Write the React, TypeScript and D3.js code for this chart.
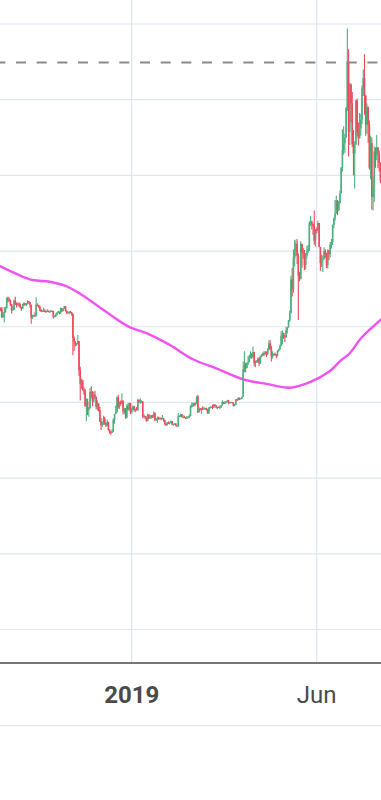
import React from 'react';
import * as d3 from 'd3';

// Daily candles [open, high, low, close], starting 2018-09-14
const startDate = '2018-09-14';

const sep2018 = [
  [6490, 6590, 6420, 6520], [6520, 6580, 6500, 6500], [6500, 6510, 6410, 6480], [6480, 6520, 6230, 6250],
  [6250, 6380, 6240, 6340], [6340, 6520, 6120, 6390], [6390, 6530, 6370, 6490], [6490, 6780, 6480, 6750],
  [6750, 6800, 6640, 6710], [6710, 6770, 6660, 6700], [6700, 6720, 6550, 6590], [6590, 6600, 6350, 6430],
  [6430, 6540, 6420, 6460], [6460, 6720, 6440, 6690], [6690, 6790, 6570, 6620], [6620, 6640, 6510, 6590],
  [6590, 6640, 6560, 6610],
];
const oct2018 = [
  [6610, 6640, 6530, 6580], [6580, 6620, 6490, 6510], [6510, 6520, 6420, 6480], [6480, 6610, 6470, 6570],
  [6570, 6650, 6540, 6620], [6620, 6630, 6560, 6580], [6580, 6620, 6550, 6610], [6610, 6700, 6590, 6680],
  [6680, 6680, 6610, 6650], [6650, 6650, 6510, 6580], [6580, 6590, 6080, 6240], [6240, 6320, 6210, 6290],
  [6290, 6320, 6270, 6300], [6300, 6380, 6260, 6290], [6290, 6780, 6270, 6580], [6580, 6620, 6540, 6570],
  [6570, 6580, 6500, 6530], [6530, 6560, 6410, 6450], [6450, 6470, 6380, 6400], [6400, 6440, 6390, 6420],
  [6420, 6500, 6410, 6420], [6420, 6460, 6390, 6410], [6410, 6430, 6370, 6400], [6400, 6470, 6390, 6420],
  [6420, 6430, 6380, 6390], [6390, 6420, 6370, 6400], [6400, 6440, 6390, 6420], [6420, 6430, 6390, 6410],
  [6410, 6420, 6210, 6270], [6270, 6300, 6250, 6280], [6280, 6350, 6250, 6320],
];
const nov2018 = [
  [6320, 6380, 6300, 6370], [6370, 6420, 6360, 6400], [6400, 6400, 6330, 6380], [6380, 6510, 6340, 6490],
  [6490, 6490, 6380, 6420], [6420, 6480, 6400, 6470], [6470, 6550, 6460, 6540], [6540, 6550, 6400, 6420],
  [6420, 6430, 6330, 6360], [6360, 6400, 6350, 6390], [6390, 6400, 6330, 6400], [6400, 6420, 6360, 6380],
  [6380, 6390, 6300, 6340], [6340, 6350, 5250, 5700], [5700, 5750, 5360, 5600], [5600, 5620, 5480, 5550],
  [5550, 5570, 5500, 5550], [5550, 5780, 5540, 5620], [5620, 5620, 4700, 4850], [4850, 4940, 4050, 4480],
  [4480, 4630, 4360, 4580], [4580, 4600, 4310, 4330], [4330, 4400, 4200, 4300], [4300, 4360, 3880, 3910],
  [3910, 4110, 3500, 4020], [4020, 4100, 3660, 3800], [3800, 3880, 3620, 3850], [3850, 4380, 3840, 4280],
  [4280, 4430, 4110, 4250], [4250, 4300, 3900, 4030],
];
const dec2018 = [
  [4030, 4280, 4000, 4200], [4200, 4310, 4100, 4150], [4150, 4160, 3820, 3880], [3880, 4060, 3790, 3970],
  [3970, 3970, 3760, 3800], [3800, 3880, 3480, 3500], [3500, 3590, 3270, 3400], [3400, 3500, 3350, 3430],
  [3430, 3650, 3410, 3570], [3570, 3620, 3410, 3450], [3450, 3470, 3350, 3390], [3390, 3540, 3380, 3480],
  [3480, 3490, 3260, 3270], [3270, 3300, 3170, 3220], [3220, 3250, 3140, 3200], [3200, 3300, 3190, 3230],
  [3230, 3580, 3220, 3540], [3540, 3700, 3440, 3690], [3690, 3920, 3690, 3750], [3750, 4150, 3730, 4130],
  [4130, 4200, 3830, 3880], [3880, 4020, 3830, 4020], [4020, 4050, 3920, 3960], [3960, 4240, 3960, 4050],
  [4050, 4050, 3680, 3760], [3760, 3860, 3700, 3820], [3820, 3850, 3570, 3600], [3600, 3950, 3580, 3900],
  [3900, 3980, 3780, 3820], [3820, 4000, 3790, 3980], [3980, 3990, 3690, 3740],
];
const jan2019 = [
  [3740, 3850, 3700, 3830], [3830, 3920, 3800, 3900], [3900, 3900, 3760, 3790], [3790, 3840, 3740, 3820],
  [3820, 3880, 3790, 3800], [3800, 4100, 3780, 4060], [4060, 4080, 3990, 4000], [4000, 4110, 3970, 4000],
  [4000, 4060, 3990, 4020], [4020, 4040, 3580, 3640], [3640, 3700, 3580, 3640], [3640, 3650, 3560, 3610],
  [3610, 3630, 3490, 3510], [3510, 3700, 3500, 3670], [3670, 3690, 3560, 3580], [3580, 3680, 3570, 3620],
  [3620, 3670, 3570, 3660], [3660, 3670, 3590, 3610], [3610, 3760, 3610, 3710], [3710, 3740, 3500, 3540],
  [3540, 3580, 3510, 3560], [3560, 3630, 3460, 3590], [3590, 3620, 3540, 3560], [3560, 3610, 3550, 3590],
  [3590, 3600, 3530, 3580], [3580, 3670, 3560, 3580], [3580, 3590, 3490, 3530], [3530, 3540, 3400, 3440],
  [3440, 3450, 3380, 3400], [3400, 3490, 3390, 3470], [3470, 3500, 3430, 3440],
];
const feb2019 = [
  [3440, 3490, 3420, 3470], [3470, 3520, 3460, 3510], [3510, 3510, 3400, 3420], [3420, 3440, 3390, 3420],
  [3420, 3450, 3410, 3440], [3440, 3450, 3370, 3390], [3390, 3400, 3360, 3370], [3370, 3720, 3360, 3640],
  [3640, 3660, 3620, 3640], [3640, 3700, 3610, 3690], [3690, 3690, 3610, 3620], [3620, 3660, 3580, 3620],
  [3620, 3650, 3580, 3600], [3600, 3610, 3560, 3580], [3580, 3640, 3570, 3590], [3590, 3640, 3590, 3610],
  [3610, 3680, 3590, 3640], [3640, 3930, 3630, 3890], [3890, 4000, 3860, 3910], [3910, 3990, 3880, 3970],
  [3970, 4000, 3890, 3940], [3940, 4000, 3920, 3980], [3980, 4180, 3960, 4150], [4150, 4200, 3720, 3740],
  [3740, 3870, 3740, 3840], [3840, 3850, 3790, 3830], [3830, 3860, 3700, 3840], [3840, 3900, 3800, 3820],
];
const mar2019 = [
  [3820, 3880, 3820, 3840], [3840, 3860, 3800, 3850], [3850, 3860, 3790, 3810], [3810, 3820, 3700, 3710],
  [3710, 3880, 3700, 3860], [3860, 3900, 3840, 3870], [3870, 3900, 3860, 3880], [3880, 3940, 3820, 3860],
  [3860, 3960, 3860, 3940], [3940, 3950, 3890, 3920], [3920, 3920, 3840, 3860], [3860, 3890, 3820, 3880],
  [3880, 3890, 3850, 3870], [3870, 3920, 3830, 3870], [3870, 3930, 3860, 3920], [3920, 4060, 3910, 4010],
  [4010, 4020, 3960, 3980], [3980, 4030, 3950, 3990], [3990, 4040, 3980, 4020], [4020, 4060, 4000, 4050],
  [4050, 4070, 3950, 3990], [3990, 4010, 3980, 4000], [4000, 4020, 3990, 4010], [4010, 4010, 3970, 3990],
  [3990, 4000, 3890, 3920], [3920, 3960, 3900, 3940], [3940, 4080, 3930, 4080], [4080, 4090, 4040, 4070],
  [4070, 4140, 4060, 4120], [4120, 4130, 4060, 4110], [4110, 4120, 4080, 4110],
];
const apr2019 = [
  [4110, 4160, 4090, 4150], [4150, 5080, 4150, 4880], [4880, 5350, 4800, 4980], [4980, 5050, 4800, 4910],
  [4910, 5060, 4900, 5040], [5040, 5230, 4990, 5060], [5060, 5260, 5060, 5200], [5200, 5350, 5170, 5290],
  [5290, 5290, 5150, 5200], [5200, 5470, 5180, 5330], [5330, 5340, 4950, 5040], [5040, 5110, 4930, 5080],
  [5080, 5120, 5050, 5080], [5080, 5180, 5040, 5160], [5160, 5200, 4960, 5030], [5030, 5240, 5020, 5210],
  [5210, 5280, 5190, 5240], [5240, 5320, 5230, 5300], [5300, 5350, 5220, 5280], [5280, 5360, 5260, 5330],
  [5330, 5350, 5200, 5290], [5290, 5440, 5250, 5390], [5390, 5640, 5380, 5560], [5560, 5650, 5390, 5430],
  [5430, 5500, 5080, 5220], [5220, 5350, 5160, 5270], [5270, 5300, 5230, 5280], [5280, 5320, 5240, 5260],
  [5260, 5280, 5170, 5230], [5230, 5380, 5210, 5360],
];
const may2019 = [
  [5360, 5420, 5340, 5400], [5400, 5530, 5390, 5490], [5490, 5880, 5490, 5760], [5760, 5900, 5530, 5830],
  [5830, 5840, 5680, 5770], [5770, 5780, 5600, 5720], [5720, 6000, 5710, 5900], [5900, 6000, 5820, 5980],
  [5980, 6180, 5980, 6170], [6170, 6430, 6130, 6360], [6360, 7350, 6360, 7250], [7250, 7550, 6800, 6990],
  [6990, 8050, 6900, 7810], [7810, 8300, 7600, 7980], [7980, 8280, 7870, 8190], [8190, 8320, 7660, 7880],
  [7880, 7940, 6180, 7350], [7350, 7450, 7200, 7260], [7260, 8260, 7250, 8190], [8190, 8190, 7560, 7970],
  [7970, 8080, 7800, 7950], [7950, 8030, 7500, 7630], [7630, 7950, 7520, 7880], [7880, 8140, 7800, 7990],
  [7990, 8160, 7950, 8060], [8060, 8790, 8000, 8740], [8740, 8930, 8670, 8780], [8780, 8800, 8570, 8720],
  [8720, 8730, 8430, 8660], [8660, 9070, 8170, 8280], [8280, 8580, 8120, 8560],
];
const jun2019 = [
  [8560, 8620, 8470, 8550], [8550, 8800, 8540, 8740], [8740, 8740, 8100, 8110], [8110, 8110, 7480, 7680],
  [7680, 7900, 7580, 7790], [7790, 7880, 7450, 7800], [7800, 8100, 7770, 8000], [8000, 8050, 7820, 7930],
  [7930, 7950, 7550, 7630], [7630, 8050, 7540, 8020], [8020, 8030, 7760, 7920], [7920, 8240, 7830, 8170],
  [8170, 8320, 8070, 8230], [8230, 8700, 8160, 8690], [8690, 8880, 8600, 8860], [8860, 9350, 8800, 8990],
  [8990, 9460, 8990, 9330], [9330, 9350, 8950, 9080], [9080, 9320, 9060, 9270], [9270, 9600, 9250, 9530],
  [9530, 10220, 9530, 10200], [10200, 11220, 10100, 10670], [10670, 11300, 10550, 10850], [10850, 11100, 10600, 11000],
  [11000, 11800, 11000, 11780], [11780, 13880, 11700, 13020], [13020, 13330, 10500, 11150], [11150, 12440, 10800, 12400],
  [12400, 12430, 11400, 11900], [11900, 12200, 10750, 10820],
];
const jul2019 = [
  [10820, 11200, 10000, 10580], [10580, 10900, 9650, 10810], [10810, 11990, 10810, 11980], [11980, 12030, 11050, 11150],
  [11150, 11400, 10780, 10980], [10980, 11650, 10980, 11240], [11240, 11620, 11050, 11470], [11470, 12380, 11360, 12300],
  [12300, 12800, 12100, 12570], [12570, 13200, 11600, 12100], [12100, 12130, 11050, 11340], [11340, 11900, 11100, 11800],
  [11800, 11820, 10860, 11350], [11350, 11450, 10150, 10200], [10200, 11050, 9900, 10850], [10850, 11000, 9100, 9430],
  [9430, 9970, 9070, 9690], [9690, 10760, 9300, 10630], [10630, 10740, 10200, 10530], [10530, 11070, 10400, 10740],
  [10740, 10740, 10190, 10590], [10590, 10660, 10100, 10330], [10330, 10340, 9800, 9870], [9870, 9920, 9550, 9770],
];

// Moving average line
const maDates = [
  '2018-09-13', '2018-09-29', '2018-10-12', '2018-10-26', '2018-11-08', '2018-11-19', '2018-12-06',
  '2018-12-29', '2019-01-13', '2019-02-01', '2019-02-20', '2019-03-11', '2019-04-02', '2019-04-21',
  '2019-05-10', '2019-05-26', '2019-06-11', '2019-06-21', '2019-06-28', '2019-07-06', '2019-07-14', '2019-07-25',
];
const maValues = [
  7640, 7395, 7235, 7190, 7080, 6890, 6510,
  6010, 5830, 5520, 5140, 4900, 4610, 4490,
  4390, 4530, 4810, 5120, 5300, 5650, 5915, 6230,
];

const priceTicks = [-2000, 0, 2000, 4000, 6000, 8000, 10000, 12000, 14000];
const timeTicks = ['2019-01-01', '2019-06-01'];
const timeTickLabels = ['2019', 'Jun'];
const timeTickBold = [true, false];
const dashedLevel = 12980;

const UP = '#4cb07f';
const DOWN = '#ef4a5a';
const GRID = '#dde7f0';

export default function App() {
  const W = 381;
  const H = 800;
  const axisY = 663;

  const start = new Date(startDate + 'T00:00:00Z');
  const all = [
    ...sep2018, ...oct2018, ...nov2018, ...dec2018, ...jan2019, ...feb2019,
    ...mar2019, ...apr2019, ...may2019, ...jun2019, ...jul2019,
  ];
  const candles = all.map((d, i) => ({
    date: d3.utcDay.offset(start, i),
    o: d[0], h: d[1], l: d[2], c: d[3],
  }));

  const x = d3
    .scaleUtc()
    .domain([new Date('2019-01-01T00:00:00Z'), new Date('2019-06-01T00:00:00Z')])
    .range([131.7, 316.7]);
  const y = d3.scaleLinear().domain([-2000, 14000]).range([629.5, 24]);

  const bodyW = 1.6;

  const maPts = maDates.map((d, i) => [x(new Date(d + 'T00:00:00Z')), y(maValues[i])] as [number, number]);
  const maPath = d3.line().curve(d3.curveCatmullRom.alpha(0.5))(maPts) || '';

  return (
    <svg
      width={W}
      height={H}
      style={{ position: 'absolute', left: 0, top: 0, display: 'block', background: '#fff' }}
      fontFamily="Roboto, 'Noto Sans', sans-serif"
    >
      <rect x={0} y={0} width={W} height={H} fill="#fff" />
      <defs>
        <clipPath id="plot">
          <rect x={0} y={0} width={W} height={axisY - 1} />
        </clipPath>
      </defs>
      {priceTicks.map((t) => (
        <line key={'h' + t} x1={0} x2={W} y1={y(t)} y2={y(t)} stroke={GRID} strokeWidth={1.2} />
      ))}
      {timeTicks.map((t) => {
        const xx = x(new Date(t + 'T00:00:00Z'));
        return <line key={'v' + t} x1={xx} x2={xx} y1={0} y2={axisY} stroke={GRID} strokeWidth={1.2} />;
      })}
      <g clipPath="url(#plot)">
        <path d={maPath} fill="none" stroke="#f252f2" strokeWidth={2.4} />
        {candles.map((d, i) => {
          const cx = x(d.date);
          const up = d.c >= d.o;
          const col = up ? UP : DOWN;
          const top = y(Math.max(d.o, d.c));
          const bot = y(Math.min(d.o, d.c));
          return (
            <g key={i}>
              <line x1={cx} x2={cx} y1={y(d.h)} y2={y(d.l)} stroke={col} strokeWidth={1.1} />
              <rect x={cx - bodyW / 2} y={top} width={bodyW} height={Math.max(1, bot - top)} fill={col} />
            </g>
          );
        })}
        <line
          x1={0}
          x2={W}
          y1={y(dashedLevel)}
          y2={y(dashedLevel)}
          stroke="#8a8a8a"
          strokeWidth={2}
          strokeDasharray="10 10.67"
          strokeDashoffset={4.67}
        />
      </g>
      <line x1={0} x2={W} y1={axisY} y2={axisY} stroke="#4a4a4a" strokeWidth={1.6} />
      <line x1={0} x2={W} y1={725.7} y2={725.7} stroke={GRID} strokeWidth={1.2} />
      {timeTicks.map((t, i) => (
        <text
          key={'l' + t}
          x={x(new Date(t + 'T00:00:00Z'))}
          y={703}
          textAnchor="middle"
          fontSize={24}
          fontWeight={timeTickBold[i] ? 700 : 400}
          fill="#4a4a4a"
        >
          {timeTickLabels[i]}
        </text>
      ))}
    </svg>
  );
}
